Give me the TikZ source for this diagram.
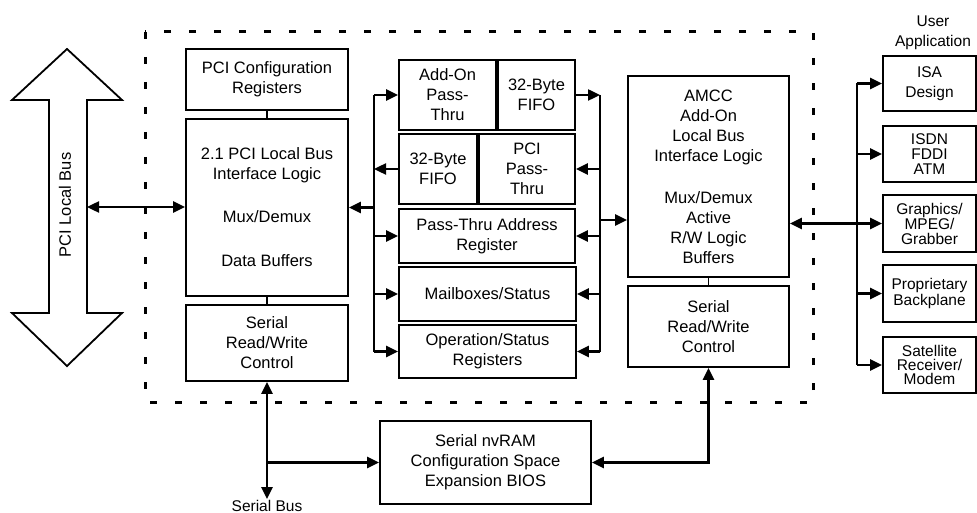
\documentclass[tikz,border=0pt]{standalone}
\usepackage{fontspec}
\setmainfont{Liberation Sans}
\usetikzlibrary{arrows.meta}

\begin{document}
\begin{tikzpicture}[x=1pt, y=-1pt,
    blk/.style={draw, line width=1.8pt, align=center, inner sep=0pt, font=\fontsize{16.5}{20}\selectfont},
    app/.style={blk, minimum width=93pt, font=\fontsize{15.5}{15}\selectfont},
    lbl/.style={align=center, inner sep=1pt, font=\fontsize{15.5}{20}\selectfont},
    wire/.style={line width=2.4pt},
    arr/.style={wire, -{Triangle[length=12pt, width=11pt]}},
    darr/.style={wire, {Triangle[length=12pt, width=11pt]}-{Triangle[length=12pt, width=11pt]}},
    frame/.style={line width=3pt, dash pattern=on 7pt off 18pt},
]
    \useasboundingbox (0,0) rectangle (977,513);

    % PCI local bus
    \draw[line width=1.8pt] (67,49) -- (122,100) -- (87,100) -- (87,313) -- (122,313)
        -- (67,366) -- (12,313) -- (49,313) -- (49,100) -- (12,100) -- cycle;
    \node[lbl, rotate=90, font=\fontsize{16.5}{20}\selectfont] at (65,205) (pci) {PCI Local Bus};
    \coordinate (pcib) at (87,207);

    \draw[frame] (145,32) rectangle (813,402);

    % PCI side
    \node[blk, minimum width=162pt, minimum height=61pt] at (267,79.5) (cfg) {PCI Configuration\\Registers};
    \node[blk, minimum width=162pt, minimum height=177pt] at (267,207.5) (iface) {2.1 PCI Local Bus\\Interface Logic\\[23pt]Mux/Demux\\[24pt]Data Buffers};
    \node[blk, minimum width=162pt, minimum height=76pt] at (267,343) (srwl) {Serial\\Read/Write\\Control};

    % pass-thru, FIFOs and registers
    \node[blk, minimum width=97pt, minimum height=70pt] at (447.5,95) (addon) {Add-On\\Pass-\\Thru};
    \node[blk, minimum width=77pt, minimum height=70pt] at (536.5,95) (fifoa) {32-Byte\\FIFO};
    \node[blk, minimum width=78pt, minimum height=70pt] at (438,169) (fifob) {32-Byte\\FIFO};
    \node[blk, minimum width=96pt, minimum height=70pt] at (527,169) (pcipt) {PCI\\Pass-\\Thru};
    \node[blk, minimum width=176pt, minimum height=54pt] at (487,236) (ptaddr) {Pass-Thru Address\\Register};
    \node[blk, minimum width=177pt, minimum height=54pt] at (487.5,294) (mbox) {Mailboxes/Status};
    \node[blk, minimum width=177pt, minimum height=53pt] at (487.5,351.5) (opstat) {Operation/Status\\Registers};

    % add-on side
    \node[blk, minimum width=161pt, minimum height=201pt] at (708.5,176.5) (amcc) {AMCC\\Add-On\\Local Bus\\Interface Logic\\[22pt]Mux/Demux\\Active\\R/W Logic\\Buffers};
    \node[blk, minimum width=161pt, minimum height=81pt] at (708.5,326.5) (srwr) {Serial\\Read/Write\\Control};

    \node[blk, minimum width=211pt, minimum height=83pt] at (485.5,462.5) (nvram) {Serial nvRAM\\Configuration Space\\Expansion BIOS};
    \node[lbl] at (267,506) (sbus) {Serial Bus};

    % user application
    \node[lbl] at (933,32.5) (usr) {User\\Application};
    \node[app, minimum height=55pt, font=\fontsize{15.5}{20}\selectfont] at (929.5,83.5) (isa) {ISA\\Design};
    \node[app, minimum height=56pt] at (929.5,154) (isdn) {ISDN\\FDDI\\ATM};
    \node[app, minimum height=57pt] at (929.5,223.5) (gfx) {Graphics/\\MPEG/\\Grabber};
    \node[app, minimum height=57pt, font=\fontsize{15.5}{16}\selectfont] at (929.5,293.5) (prop) {Proprietary\\Backplane};
    \node[app, minimum height=56pt, font=\fontsize{15.5}{14}\selectfont] at (929.5,365) (sat) {Satellite\\Receiver/\\Modem};

    \coordinate (lb) at (374,0);
    \coordinate (rb) at (600,0);
    \coordinate (ab) at (857,0);
    \coordinate (rtap) at (600,220);

    \draw[darr] (pcib) -- (iface.west |- pcib);
    \draw[wire, line width=1.5pt] (cfg.south) -- (iface.north);
    \draw[wire, line width=1.5pt] (iface.south) -- (srwl.north);
    \draw[wire, line width=1.5pt] (amcc.south) -- (srwr.north);

    \draw[wire] (lb |- addon.west) -- (lb |- opstat.west);
    \draw[arr] (lb |- iface.east) -- (iface.east);
    \draw[arr] (lb |- addon.west) -- (addon.west);
    \draw[arr] (fifob.west) -- (lb |- fifob.west);
    \draw[arr] (lb |- ptaddr.west) -- (ptaddr.west);
    \draw[arr] (lb |- mbox.west) -- (mbox.west);
    \draw[arr] (lb |- opstat.west) -- (opstat.west);

    \draw[wire] (rb |- fifoa.east) -- (rb |- opstat.east);
    \draw[arr] (fifoa.east) -- (rb |- fifoa.east);
    \draw[arr] (rb |- pcipt.east) -- (pcipt.east);
    \draw[arr] (rb |- ptaddr.east) -- (ptaddr.east);
    \draw[arr] (rb |- mbox.east) -- (mbox.east);
    \draw[arr] (rb |- opstat.east) -- (opstat.east);
    \draw[arr] (rtap) -- (amcc.west |- rtap);

    \draw[darr] (amcc.east |- gfx.west) -- (gfx.west);
    \draw[wire] (ab |- isa.west) -- (ab |- sat.west);
    \draw[arr] (ab |- isa.west) -- (isa.west);
    \draw[arr] (ab |- isdn.west) -- (isdn.west);
    \draw[arr] (ab |- prop.west) -- (prop.west);
    \draw[arr] (ab |- sat.west) -- (sat.west);

    \draw[darr] (srwl.south) -- (sbus.north);
    \draw[arr] (srwl.south |- nvram.west) -- (nvram.west);
    \draw[darr] (nvram.east) -| (srwr.south);
\end{tikzpicture}
\end{document}
